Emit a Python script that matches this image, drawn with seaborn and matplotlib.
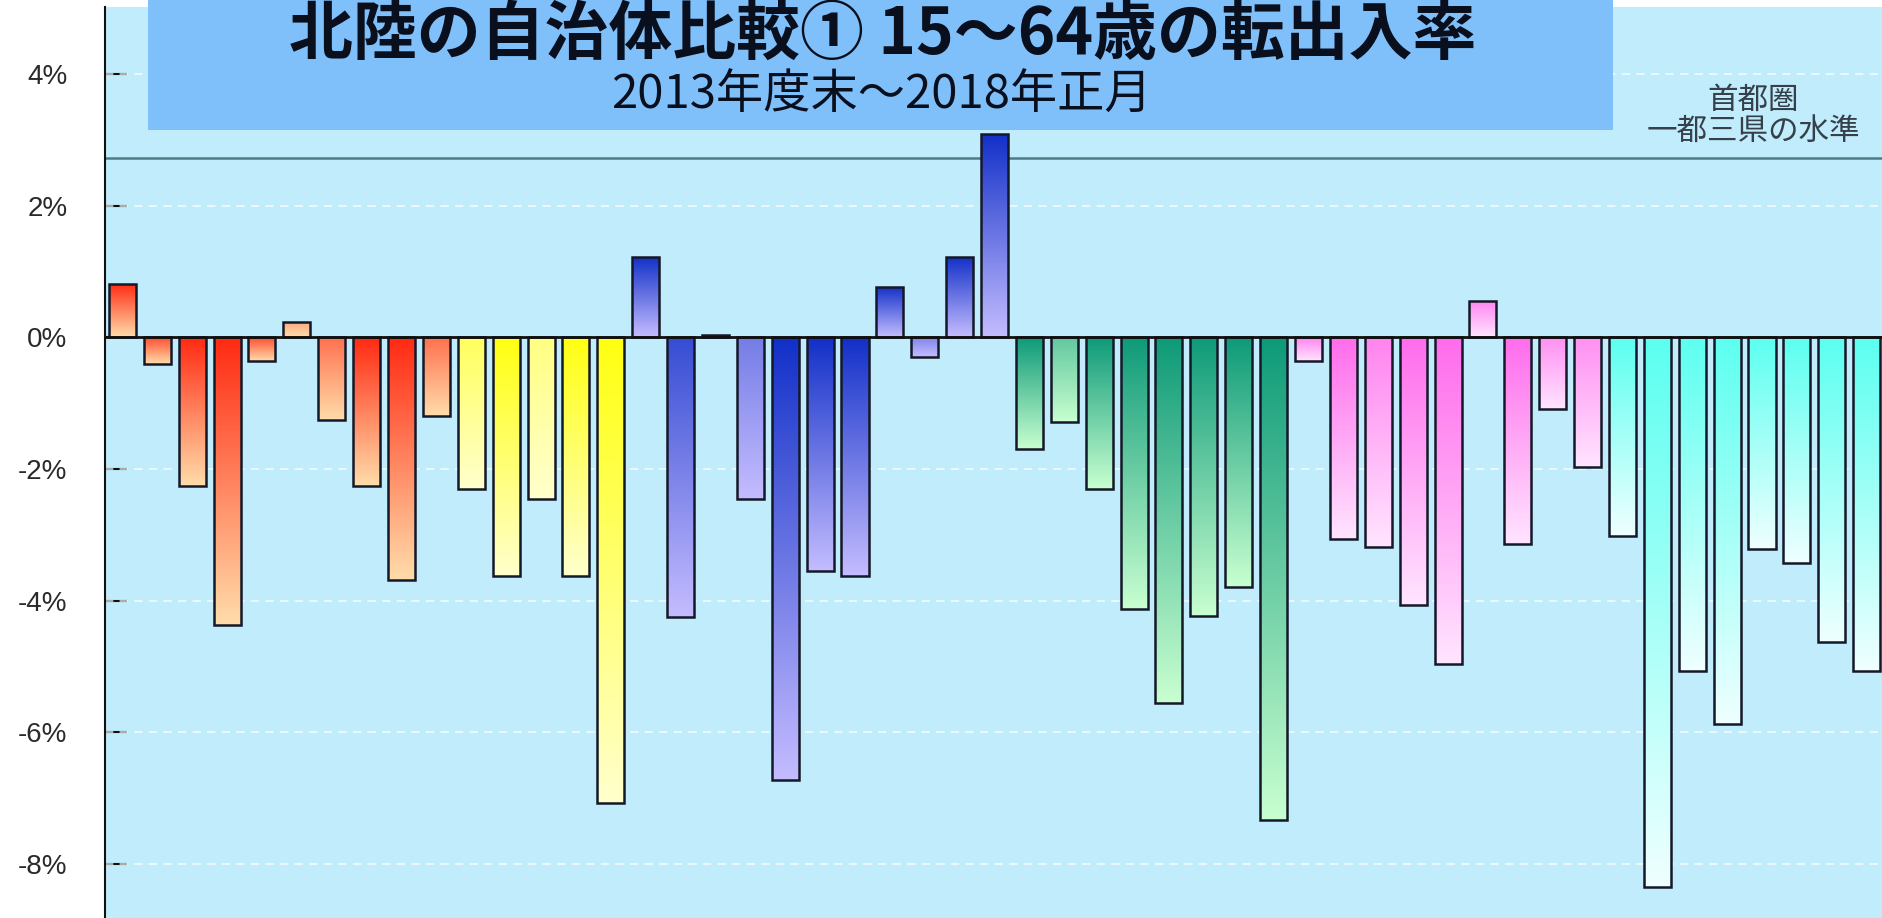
import numpy as np
import pandas as pd
import matplotlib
matplotlib.use("Agg")
import matplotlib.pyplot as plt
from matplotlib.patches import Rectangle
from matplotlib.colors import to_rgb
from matplotlib import font_manager
import seaborn as sns

# 15-64 age net migration rate (%) by municipality, grouped by prefecture block
red_rates = [0.81, -0.40, -2.26, -4.37, -0.36, 0.24, -1.25, -2.26, -3.68, -1.20]
yellow_rates = [-2.31, -3.63, -2.46, -3.63, -7.07]
blue_rates = [1.22, -4.24, 0.04, -2.46, -6.73, -3.55, -3.63, 0.77, -0.29, 1.22, 3.09]
green_rates = [-1.69, -1.29, -2.30, -4.12, -5.56, -4.23, -3.79, -7.33]
pink_rates = [-0.36, -3.06, -3.19, -4.06, -4.96, 0.56, -3.14, -1.09, -1.97]
cyan_rates = [-3.02, -8.35, -5.07, -5.88, -3.22, -3.43, -4.63, -5.07]

capital_area_level = 2.72  # Tokyo + 3 prefectures reference level (%)

title = "北陸の自治体比較① 15～64歳の転出入率"
subtitle = "2013年度末～2018年正月"
ref_label_lines = ["首都圏", "一都三県の水準"]
y_ticks = [-8, -6, -4, -2, 0, 2, 4]
y_tick_labels = ["-8%", "-6%", "-4%", "-2%", "0%", "2%", "4%"]

# gradient colours per group: (top colour, bottom colour)
group_colors = {
    "red": ("#FF2A12", "#FFDCAA"),
    "yellow": ("#FFFF12", "#FFFFCC"),
    "blue": ("#1230C8", "#C4BCFF"),
    "green": ("#0E9A78", "#C8FFD0"),
    "pink": ("#FF6CEC", "#FFE4FF"),
    "cyan": ("#5CFFF0", "#EEFFFF"),
}
# how strong the top colour is on each bar (1 = full colour)
tone = ([1.0, 0.8, 1.0, 1.0, 0.8, 0.3, 0.6, 1.0, 1.0, 0.6]
        + [0.6, 1.0, 0.4, 1.0, 1.0]
        + [1.0, 0.8, 1.0, 0.45, 1.0, 1.0, 1.0, 1.0, 0.4, 1.0, 1.0]
        + [1.0, 0.55, 1.0, 1.0, 1.0, 1.0, 1.0, 1.0]
        + [0.8, 1.0, 0.8, 1.0, 1.0, 0.8, 1.0, 0.7, 0.7]
        + [1.0] * 8)

groups = (["red"] * len(red_rates) + ["yellow"] * len(yellow_rates)
          + ["blue"] * len(blue_rates) + ["green"] * len(green_rates)
          + ["pink"] * len(pink_rates) + ["cyan"] * len(cyan_rates))
rates = red_rates + yellow_rates + blue_rates + green_rates + pink_rates + cyan_rates
df = pd.DataFrame({"idx": list(range(len(rates))), "rate": rates, "group": groups})

installed = {f.name for f in font_manager.fontManager.ttflist}
tick_font = "Liberation Sans Narrow" if "Liberation Sans Narrow" in installed else "Liberation Sans"

sns.set_theme(style="white")
plt.rcParams["font.family"] = ["Noto Sans CJK JP", "DejaVu Sans"]

W, H = 1882, 918
fig = plt.figure(figsize=(W / 100, H / 100), dpi=100, facecolor="white")
ax = fig.add_axes([105 / W, 0, 1 - 105 / W, 1 - 7 / H])
ax.set_facecolor("#C0ECFC")

sns.barplot(data=df, x="idx", y="rate", hue="group", dodge=False,
            palette={k: v[0] for k, v in group_colors.items()},
            width=0.775, legend=False, ax=ax,
            edgecolor="#141828", linewidth=1.8)

# gradient fill clipped to every bar
for p in list(ax.patches):
    if not isinstance(p, Rectangle) or p.get_width() == 0:
        continue
    i = int(round(p.get_x() + p.get_width() / 2))
    top_c, bot_c = group_colors[groups[i]]
    t = tone[i]
    top_rgb = np.array(to_rgb(top_c)) * t + np.array(to_rgb(bot_c)) * (1 - t)
    bot_rgb = np.array(to_rgb(bot_c))
    n = 128
    f = np.linspace(0, 1, n)[:, None]
    grad = (top_rgb[None, :] * (1 - f) + bot_rgb[None, :] * f)[:, None, :]
    y0, y1 = sorted([p.get_y(), p.get_y() + p.get_height()])
    im = ax.imshow(grad, extent=[p.get_x(), p.get_x() + p.get_width(), y0, y1],
                   origin="upper", aspect="auto", interpolation="bilinear", zorder=2.5)
    im.set_clip_path(p)
    p.set_facecolor("none")
    p.set_zorder(3)

ax.set_xlim(-0.5, 50.44)
ax.set_ylim(-8.82, 5.02)

# grid, zero line and reference level
for v in [-8, -6, -4, -2, 2, 4]:
    ax.axhline(v, color="white", lw=1.5, ls=(0, (4, 3)), alpha=0.65, zorder=1)
ax.axhline(capital_area_level, color="#4E7C84", lw=1.8, zorder=1.5)
ax.axhline(0, color="#101010", lw=2.0, zorder=4)

ax.set_yticks(y_ticks)
ax.set_yticklabels(y_tick_labels, fontfamily=tick_font, fontsize=20, color="#2A2A2A")
ax.tick_params(axis="y", direction="in", length=16, width=1.5, color="#111111",
               pad=27, left=True)
ax.tick_params(axis="x", bottom=False, labelbottom=False)
ax.set_xlabel("")
ax.set_ylabel("")
for s in ["top", "right", "bottom"]:
    ax.spines[s].set_visible(False)
ax.spines["left"].set_color("#111111")
ax.spines["left"].set_linewidth(1.5)

# title banner
fig.patches.append(Rectangle((148 / W, 1 - 130 / H), (1613 - 148) / W, 130 / H + 0.01,
                             transform=fig.transFigure, facecolor="#80C0FA",
                             edgecolor="none", zorder=5))
fig.text(883 / W, 1 - 35 / H, title, ha="center", va="center", fontsize=46,
         fontweight="bold", color="#0A0F1E", zorder=6)
fig.text(881 / W, 1 - 96 / H, subtitle, ha="center", va="center", fontsize=34,
         color="#0A0F1E", zorder=6)

# label for the reference level line
for line, yc in zip(ref_label_lines, [100, 131]):
    fig.text(1753 / W, 1 - yc / H, line, ha="center", va="center", fontsize=22,
             color="#36404A", zorder=6)

fig.savefig("out.png", dpi=100, facecolor="white")
